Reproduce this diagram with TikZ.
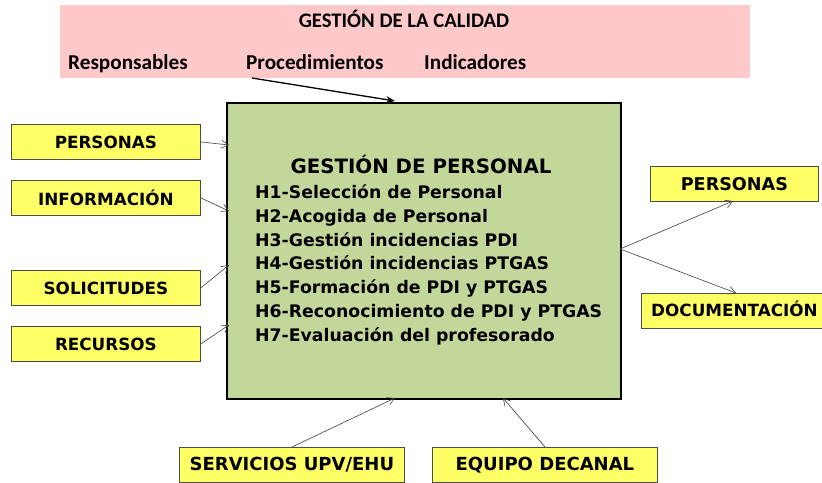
\documentclass[tikz,border=0pt]{standalone}
\usepackage{fontspec}
\setmainfont{DejaVu Sans}
\newfontfamily\calfont{Carlito}
\usetikzlibrary{arrows.meta}
\definecolor{pinkbg}{HTML}{FFC9C9}
\definecolor{boxgreen}{HTML}{C4D79B}
\definecolor{boxyellow}{HTML}{FFFF66}
\definecolor{arrgray}{HTML}{404040}
\tikzset{
  ybox/.style={draw=black!70, fill=boxyellow, line width=0.8pt, minimum height=35pt, inner sep=0pt, font=\bfseries\fontsize{16.8}{20}\selectfont},
  bigy/.style={font=\bfseries\fontsize{18}{20}\selectfont},
  conn/.style={draw=arrgray, line width=0.6pt, -{Straight Barb[length=7pt,width=8pt]}},
  ptxt/.style={font=\calfont\bfseries\fontsize{21.2}{24}\selectfont, inner sep=0pt, anchor=base west},
}
\begin{document}
\begin{tikzpicture}[x=1pt,y=-1pt]
\useasboundingbox (0,0) rectangle (822,482);
\node[fill=pinkbg, minimum width=690pt, minimum height=73pt, anchor=north west, inner sep=0pt] (cal) at (60,5) {};
\node[ptxt, anchor=base, font=\calfont\bfseries\fontsize{20.7}{24}\selectfont] (caltit) at (404,27) {GESTIÓN DE LA CALIDAD};
\node[ptxt] (resp) at (68,69.5) {Responsables};
\node[ptxt] (proc) at (246,69.5) {Procedimientos};
\node[ptxt] (ind) at (424,69.5) {Indicadores};

\node[draw=black, line width=2pt, fill=boxgreen, minimum width=394pt, minimum height=296pt, anchor=north west, inner sep=0pt] (gp) at (226,102) {};
\node[font=\bfseries\fontsize{19.8}{22}\selectfont, anchor=base, inner sep=0pt] (gptit) at (421,173.5) {GESTIÓN DE PERSONAL};
\node[font=\bfseries\fontsize{17.3}{23.8}\selectfont, anchor=north west, align=left, inner sep=0pt] (gplist) at (255,184.5) {H1-Selección de Personal\\H2-Acogida de Personal\\H3-Gestión incidencias PDI\\H4-Gestión incidencias PTGAS\\H5-Formación de PDI y PTGAS\\H6-Reconocimiento de PDI y PTGAS\\H7-Evaluación del profesorado};

\node[ybox, minimum width=189pt, anchor=north west] (pers) at (11,124) {PERSONAS};
\node[ybox, minimum width=189pt, anchor=north west] (info) at (11,180) {INFORMACIÓN};
\node[ybox, minimum width=189pt, anchor=north west] (soli) at (11,270) {SOLICITUDES};
\node[ybox, minimum width=189pt, anchor=north west] (recu) at (11,326) {RECURSOS};

\node[ybox, minimum width=168pt, anchor=north west, font=\bfseries\fontsize{17.6}{20}\selectfont] (pers2) at (650,166) {PERSONAS};
\node[ybox, minimum width=181pt, anchor=north west] (docu) at (641,293) {};
\node[font=\bfseries\fontsize{16.8}{20}\selectfont, anchor=west, inner sep=0pt] (docut) at (651,309) {DOCUMENTACIÓN};

\node[ybox, bigy, minimum width=225pt, anchor=north west] (serv) at (179,447) {SERVICIOS UPV/EHU};
\node[ybox, bigy, minimum width=225pt, anchor=north west] (equi) at (432,447) {EQUIPO DECANAL};

\coordinate (procA) at (252,78);
\coordinate (procB) at (395,101);
\draw[black, line width=1.3pt, -{Stealth[length=9pt,width=7pt]}] (procA) -- (procB);

\draw[conn] (pers.east) -- (229,145);
\draw[conn] (info.east) -- (229,211);
\draw[conn] (soli.east) -- (229,265);
\draw[conn] (recu.east) -- (229,325);

\coordinate (outp) at (620,249);
\draw[conn] (outp) -- (733,201);
\draw[conn] (outp) -- (736,293);

\draw[conn] (292,447) -- (395,398);
\draw[conn] (545,447) -- (503,398);
\end{tikzpicture}
\end{document}
